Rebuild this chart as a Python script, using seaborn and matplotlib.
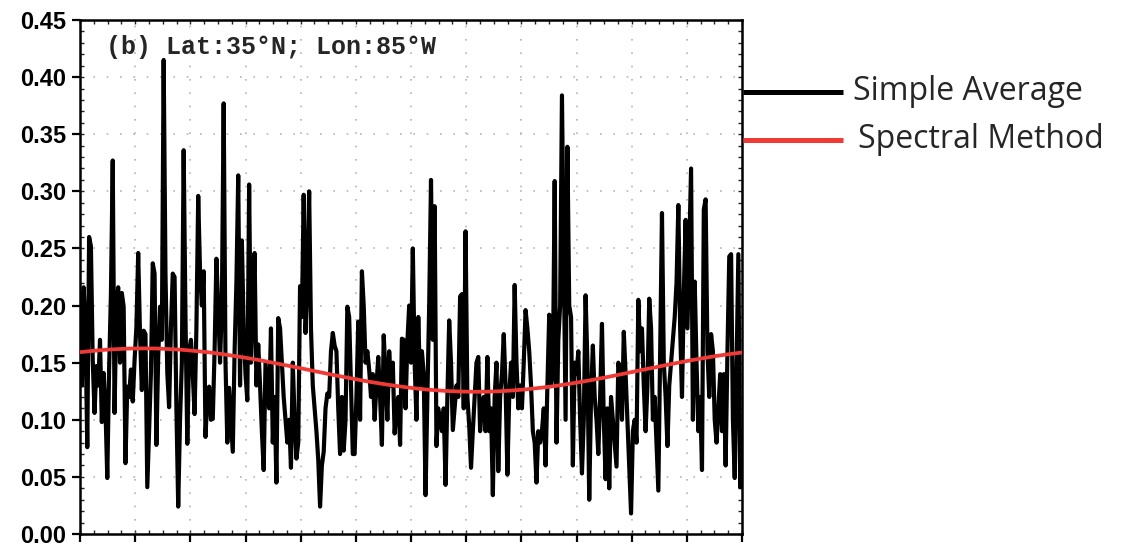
import numpy as np
import pandas as pd
import matplotlib
matplotlib.use("Agg")
import matplotlib.pyplot as plt
import seaborn as sns
from matplotlib.lines import Line2D
from matplotlib.ticker import FixedLocator

# Daily values (day-of-year 0..364), simple average
simple_average = [
    # days 0-72
    0.210, 0.130, 0.216, 0.180, 0.076, 0.260, 0.252, 0.152, 0.106, 0.147,
    0.130, 0.170, 0.098, 0.141, 0.110, 0.049, 0.144, 0.210, 0.327, 0.106,
    0.199, 0.216, 0.150, 0.211, 0.199, 0.062, 0.129, 0.120, 0.144, 0.116,
    0.152, 0.181, 0.246, 0.175, 0.126, 0.178, 0.175, 0.041, 0.090, 0.141,
    0.237, 0.228, 0.078, 0.155, 0.199, 0.170, 0.415, 0.228, 0.141, 0.111,
    0.180, 0.228, 0.225, 0.111, 0.024, 0.100, 0.150, 0.336, 0.190, 0.079,
    0.160, 0.170, 0.140, 0.105, 0.180, 0.296, 0.230, 0.200, 0.230, 0.085,
    0.120, 0.129, 0.100,
    # days 73-145
    0.101, 0.160, 0.241, 0.199, 0.150, 0.200, 0.377, 0.150, 0.080, 0.128,
    0.100, 0.072, 0.160, 0.220, 0.314, 0.130, 0.257, 0.180, 0.140, 0.117,
    0.306, 0.150, 0.200, 0.246, 0.130, 0.166, 0.130, 0.090, 0.056, 0.150,
    0.130, 0.110, 0.180, 0.080, 0.120, 0.045, 0.189, 0.180, 0.150, 0.120,
    0.100, 0.080, 0.100, 0.058, 0.150, 0.100, 0.066, 0.080, 0.217, 0.190,
    0.297, 0.176, 0.220, 0.300, 0.180, 0.130, 0.110, 0.090, 0.065, 0.024,
    0.060, 0.072, 0.110, 0.123, 0.120, 0.160, 0.176, 0.165, 0.160, 0.110,
    0.070, 0.120, 0.073,
    # days 146-218
    0.100, 0.199, 0.190, 0.130, 0.070, 0.070, 0.120, 0.186, 0.100, 0.230,
    0.200, 0.150, 0.160, 0.144, 0.120, 0.140, 0.100, 0.130, 0.155, 0.120,
    0.078, 0.174, 0.140, 0.100, 0.160, 0.130, 0.150, 0.088, 0.110, 0.120,
    0.078, 0.171, 0.170, 0.110, 0.168, 0.200, 0.150, 0.250, 0.150, 0.100,
    0.190, 0.130, 0.160, 0.140, 0.034, 0.120, 0.200, 0.310, 0.170, 0.287,
    0.077, 0.110, 0.100, 0.090, 0.110, 0.043, 0.120, 0.187, 0.150, 0.091,
    0.110, 0.130, 0.120, 0.208, 0.210, 0.110, 0.265, 0.120, 0.095, 0.058,
    0.090, 0.120, 0.150,
    # days 219-290
    0.155, 0.090, 0.110, 0.120, 0.090, 0.155, 0.090, 0.110, 0.034, 0.120,
    0.150, 0.055, 0.120, 0.140, 0.175, 0.130, 0.052, 0.120, 0.150, 0.120,
    0.218, 0.150, 0.110, 0.130, 0.110, 0.150, 0.196, 0.180, 0.160, 0.130,
    0.090, 0.080, 0.045, 0.090, 0.080, 0.090, 0.110, 0.060, 0.130, 0.192,
    0.130, 0.140, 0.309, 0.080, 0.170, 0.200, 0.384, 0.240, 0.100, 0.339,
    0.200, 0.190, 0.060, 0.150, 0.140, 0.160, 0.100, 0.053, 0.100, 0.209,
    0.150, 0.030, 0.120, 0.165, 0.120, 0.100, 0.070, 0.120, 0.184, 0.100,
    0.048, 0.110,
    # days 291-364
    0.040, 0.120, 0.100, 0.080, 0.059, 0.150, 0.140, 0.100, 0.177, 0.140,
    0.100, 0.060, 0.018, 0.090, 0.100, 0.080, 0.205, 0.160, 0.180, 0.130,
    0.090, 0.130, 0.206, 0.180, 0.100, 0.120, 0.080, 0.038, 0.160, 0.281,
    0.150, 0.120, 0.077, 0.130, 0.150, 0.170, 0.190, 0.220, 0.288, 0.180,
    0.120, 0.210, 0.275, 0.180, 0.250, 0.320, 0.100, 0.221, 0.150, 0.090,
    0.120, 0.056, 0.284, 0.293, 0.160, 0.120, 0.175, 0.160, 0.100, 0.080,
    0.110, 0.140, 0.090, 0.140, 0.060, 0.160, 0.243, 0.245, 0.100, 0.049,
    0.150, 0.245, 0.041, 0.090,
]

# Weekly values of the spectral (harmonic) estimate
spectral_days = list(range(0, 358, 7)) + [364]
spectral_method = [
    0.1592, 0.1603, 0.1613, 0.1619, 0.1624, 0.1625, 0.1624, 0.1619, 0.1613,
    0.1603, 0.1592, 0.1578, 0.1561, 0.1543, 0.1524, 0.1503, 0.1481, 0.1459,
    0.1436, 0.1413, 0.1390, 0.1369, 0.1348, 0.1328, 0.1310, 0.1294, 0.1279,
    0.1267, 0.1258, 0.1251, 0.1247, 0.1245, 0.1246, 0.1250, 0.1257, 0.1266,
    0.1278, 0.1291, 0.1307, 0.1325, 0.1344, 0.1365, 0.1387, 0.1410, 0.1433,
    0.1455, 0.1478, 0.1500, 0.1521, 0.1540, 0.1559, 0.1575, 0.1589,
]

y_ticks = [0.00, 0.05, 0.10, 0.15, 0.20, 0.25, 0.30, 0.35, 0.40, 0.45]
y_tick_labels = ["0.00", "0.05", "0.10", "0.15", "0.20",
                 "0.25", "0.30", "0.35", "0.40", "0.45"]
series_names = ["Simple Average", "Spectral Method"]
series_colors = ["black", "#f03a35"]
panel_title = "(b) Lat:35°N; Lon:85°W"

sns.set_style("ticks")

W, H = 1129, 548
fig = plt.figure(figsize=(W / 100, H / 100), dpi=100)
ax = fig.add_axes([80 / W, 1 - 534 / H, 662 / W, 514 / H])

df_avg = pd.DataFrame({"day": np.arange(len(simple_average)),
                       "value": simple_average})
df_spec = pd.DataFrame({"day": spectral_days, "value": spectral_method})

sns.lineplot(data=df_avg, x="day", y="value", ax=ax, color=series_colors[0],
             lw=3.0, estimator=None, zorder=3)
sns.lineplot(data=df_spec, x="day", y="value", ax=ax, color=series_colors[1],
             lw=2.7, estimator=None, zorder=4)

last_day = len(simple_average) - 1
ax.set_xlim(0, last_day)
ax.set_ylim(0, 0.45)
ax.set_xlabel("")
ax.set_ylabel("")

# Axis ticks: monthly majors with four minor divisions
ax.xaxis.set_major_locator(FixedLocator(np.linspace(0, last_day, 13)))
ax.xaxis.set_minor_locator(FixedLocator(np.linspace(0, last_day, 49)))
ax.xaxis.remove_overlapping_locs = False
ax.set_xticklabels([])
ax.yaxis.set_major_locator(FixedLocator(y_ticks))
ax.yaxis.set_minor_locator(FixedLocator(np.arange(0, 0.4501, 0.01)))
ax.yaxis.remove_overlapping_locs = False
ax.set_yticklabels(y_tick_labels, fontfamily="Liberation Sans",
                   fontweight="bold", fontsize=17)

ax.tick_params(which="major", direction="out", length=6, width=1.6,
               left=True, bottom=True, top=False, right=False, pad=4,
               colors="black")
ax.tick_params(which="minor", direction="in", length=3, width=1.0,
               left=True, bottom=True, top=True, right=True, colors="#222222")

for side in ax.spines.values():
    side.set_linewidth(1.8)
    side.set_color("black")

# Dotted grid at major ticks
for yv in y_ticks[1:-1]:
    ax.axhline(yv, color="#b5b5b5", lw=1.2, ls=(0, (1, 7)), zorder=1)
for xv in np.linspace(0, last_day, 13)[1:-1]:
    ax.axvline(xv, color="#b5b5b5", lw=1.2, ls=(0, (1, 7)), zorder=1)

ax.text((106 - 80) / 662, (534 - 54) / 514, panel_title,
        transform=ax.transAxes, fontfamily="Liberation Mono",
        fontweight="bold", fontsize=18, va="baseline", ha="left", zorder=5)

# Key to the two series, placed right of the plot
key_rows = [(92, 853, 100), (140, 858, 148)]
for (ly, tx, ty), name, col in zip(key_rows, series_names, series_colors):
    fig.add_artist(Line2D([743 / W, 843 / W], [1 - ly / H, 1 - ly / H],
                          transform=fig.transFigure, color=col, lw=3.6,
                          solid_capstyle="butt"))
    fig.text(tx / W, 1 - ty / H, name, fontfamily="Open Sans", fontsize=23,
             va="baseline", ha="left")

fig.savefig("out.png", dpi=100)
